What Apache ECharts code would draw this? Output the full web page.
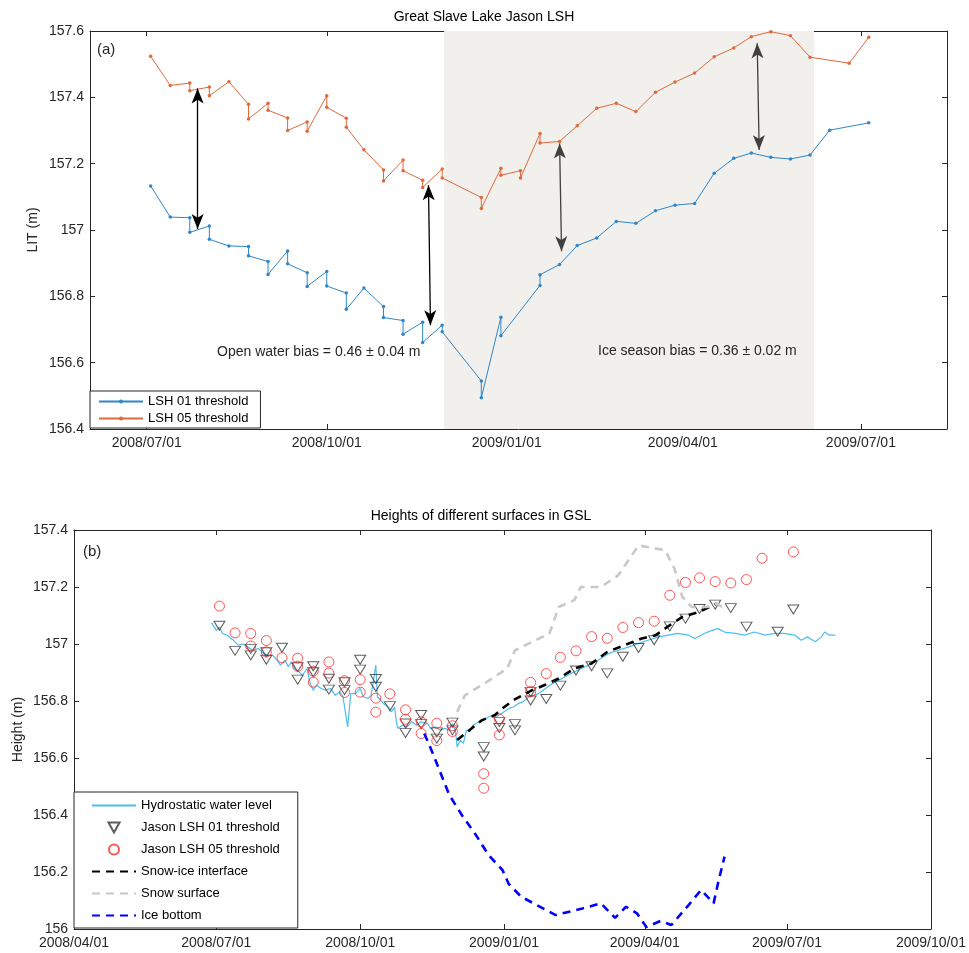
<!DOCTYPE html>
<html>
<head>
<meta charset="utf-8">
<script src="https://cdn.jsdelivr.net/npm/echarts@6/dist/echarts.min.js"></script>
<style>
  html, body { margin: 0; padding: 0; background: #fff; }
  #chart { width: 969px; height: 953px; }
</style>
</head>
<body>
<div id="chart"></div>
<script>
// ---- panel (a): LSH retrievals ----
var lsh01Dates = ['2008-07-03','2008-07-13','2008-07-23','2008-07-23','2008-08-02','2008-08-02','2008-08-12','2008-08-22','2008-08-22','2008-09-01',
  '2008-09-01','2008-09-11','2008-09-11','2008-09-21','2008-09-21','2008-10-01','2008-10-01','2008-10-11','2008-10-11','2008-10-20',
  '2008-10-30','2008-10-30','2008-11-09','2008-11-09','2008-11-19','2008-11-19','2008-11-29','2008-11-29','2008-12-19','2008-12-19',
  '2008-12-29','2008-12-29','2009-01-18','2009-01-18','2009-01-28','2009-02-06','2009-02-16','2009-02-26','2009-03-08','2009-03-18',
  '2009-03-28','2009-04-07','2009-04-17','2009-04-27','2009-05-06','2009-05-16','2009-05-26','2009-06-05','2009-06-15','2009-07-05']
var lsh01Vals = [157.133,157.039,157.037,156.993,157.012,156.972,156.952,156.950,156.922,156.905,
  156.866,156.937,156.898,156.871,156.830,156.875,156.831,156.810,156.761,156.825,
  156.769,156.736,156.727,156.686,156.722,156.661,156.713,156.693,156.545,156.494,
  156.737,156.681,156.833,156.865,156.896,156.953,156.976,157.026,157.020,157.058,
  157.075,157.080,157.171,157.216,157.232,157.219,157.214,157.226,157.301,157.323]

var lsh05Dates = ['2008-07-03','2008-07-13','2008-07-23','2008-07-23','2008-08-02','2008-08-02','2008-08-12','2008-08-22','2008-08-22','2008-09-01',
  '2008-09-01','2008-09-11','2008-09-11','2008-09-21','2008-09-21','2008-10-01','2008-10-01','2008-10-11','2008-10-11','2008-10-20',
  '2008-10-30','2008-10-30','2008-11-09','2008-11-09','2008-11-19','2008-11-19','2008-11-29','2008-11-29','2008-12-19','2008-12-19',
  '2008-12-29','2008-12-29','2009-01-08','2009-01-08','2009-01-18','2009-01-18','2009-01-28','2009-02-06','2009-02-16','2009-02-26',
  '2009-03-08','2009-03-18','2009-03-28','2009-04-07','2009-04-17','2009-04-27','2009-05-06','2009-05-16','2009-05-26','2009-06-05',
  '2009-06-25','2009-07-05']
var lsh05Vals = [157.524,157.436,157.443,157.420,157.431,157.405,157.447,157.379,157.335,157.382,
  157.361,157.338,157.300,157.326,157.298,157.405,157.370,157.337,157.310,157.242,
  157.181,157.148,157.211,157.179,157.150,157.128,157.184,157.157,157.098,157.065,
  157.186,157.165,157.179,157.157,157.291,157.262,157.267,157.314,157.367,157.382,
  157.357,157.415,157.446,157.473,157.522,157.549,157.583,157.598,157.586,157.521,
  157.503,157.581]

var iceSeason = ['2008-11-30', '2009-06-07']
// bias arrows: [date top, value top, date bottom, value bottom, colour]
var biasArrows = [
  ['2008-07-27', 157.427, '2008-07-27', 157.003, '#000000'],
  ['2008-11-22', 157.135, '2008-11-23', 156.713, '#000000'],
  ['2009-01-28', 157.261, '2009-01-29', 156.936, '#404040'],
  ['2009-05-09', 157.563, '2009-05-10', 157.241, '#404040'],
]
var topTicks = ['2008-07-01', '2008-10-01', '2009-01-01', '2009-04-01', '2009-07-01']

// ---- panel (b): surfaces ----
var hydroDates = ['2008-06-28','2008-07-01','2008-07-03','2008-07-05','2008-07-08','2008-07-12','2008-07-15','2008-07-18','2008-07-21','2008-07-24',
  '2008-07-28','2008-07-31','2008-08-03','2008-08-06','2008-08-09','2008-08-11','2008-08-14','2008-08-16','2008-08-18','2008-08-20',
  '2008-08-23','2008-08-25','2008-08-28','2008-08-30','2008-09-01','2008-09-03','2008-09-06','2008-09-09','2008-09-12','2008-09-15',
  '2008-09-18','2008-09-20','2008-09-23','2008-09-25','2008-09-28','2008-10-01','2008-10-03','2008-10-06','2008-10-08','2008-10-11',
  '2008-10-12','2008-10-14','2008-10-16','2008-10-19','2008-10-21','2008-10-23','2008-10-24','2008-10-25','2008-10-28','2008-10-31',
  '2008-11-03','2008-11-06','2008-11-09','2008-11-13','2008-11-15','2008-11-18','2008-11-21','2008-11-24','2008-11-27','2008-11-29',
  '2008-12-01','2008-12-02','2008-12-04','2008-12-06','2008-12-08','2008-12-10','2008-12-12','2008-12-16','2008-12-19','2008-12-22',
  '2008-12-25','2008-12-28','2009-01-01','2009-01-04','2009-01-07','2009-01-10','2009-01-13','2009-01-17','2009-01-20','2009-01-23',
  '2009-01-26','2009-01-29','2009-02-01','2009-02-05','2009-02-11','2009-02-17','2009-02-24','2009-03-02','2009-03-09','2009-03-15',
  '2009-03-22','2009-03-28','2009-04-03','2009-04-10','2009-04-16','2009-04-22','2009-04-29','2009-05-03','2009-05-09','2009-05-14',
  '2009-05-18','2009-05-22','2009-05-29','2009-06-04','2009-06-10','2009-06-17','2009-06-23','2009-06-29','2009-07-06','2009-07-10',
  '2009-07-14','2009-07-19','2009-07-23','2009-07-25','2009-07-28','2009-08-01']
var hydroVals = [157.074,157.048,157.06,157.037,157.031,157.013,156.996,157.0,156.99,156.978,
  156.984,156.967,156.96,156.96,156.943,156.926,156.943,156.92,156.937,156.914,
  156.902,156.89,156.914,156.861,156.838,156.856,156.844,156.838,156.844,156.82,
  156.832,156.815,156.709,156.826,156.826,156.844,156.815,156.809,156.82,156.926,
  156.815,156.803,156.791,156.779,156.762,156.779,156.733,156.704,156.715,156.709,
  156.727,156.715,156.727,156.721,156.704,156.709,156.698,156.704,156.698,156.721,
  156.692,156.639,156.663,156.651,156.698,156.692,156.715,156.727,156.733,156.744,
  156.75,156.747,156.762,156.774,156.779,156.791,156.797,156.815,156.82,156.826,
  156.838,156.85,156.861,156.873,156.891,156.908,156.926,156.943,156.967,156.978,
  156.99,157.002,157.013,157.025,157.031,157.037,157.031,157.019,157.037,157.048,
  157.054,157.042,157.037,157.031,157.042,157.031,157.037,157.037,157.031,157.013,
  157.025,157.008,157.025,157.042,157.031,157.031]

// triangles share lsh05Dates, circles share lsh01Dates/lsh01Vals
var triVals = [157.064,156.976,156.983,156.960,156.971,156.945,156.987,156.919,156.875,156.922,
  156.901,156.878,156.840,156.866,156.838,156.945,156.910,156.877,156.850,156.782,
  156.721,156.688,156.751,156.719,156.690,156.668,156.724,156.697,156.638,156.605,
  156.726,156.705,156.719,156.697,156.831,156.802,156.807,156.854,156.907,156.922,
  156.897,156.955,156.986,157.013,157.062,157.089,157.123,157.138,157.126,157.061,
  157.043,157.121]

var snowIceDates = ['2008-12-02','2008-12-10','2008-12-18','2008-12-26','2008-12-31','2009-01-07','2009-01-19','2009-01-27','2009-02-05','2009-02-15',
  '2009-02-26','2009-03-08','2009-03-19','2009-03-30','2009-04-08','2009-04-17','2009-04-25','2009-05-06','2009-05-17']
var snowIceVals = [156.663,156.698,156.733,156.75,156.774,156.803,156.838,156.856,156.879,156.914,
  156.932,156.972,156.996,157.019,157.031,157.066,157.095,157.113,157.142]

var snowDates = ['2008-12-02','2008-12-07','2008-12-21','2009-01-03','2009-01-08','2009-01-30','2009-02-05','2009-02-15','2009-02-19','2009-03-04',
  '2009-03-15','2009-03-28','2009-04-14','2009-04-20','2009-04-25','2009-05-01','2009-05-11','2009-05-17','2009-05-22']
var snowVals = [156.762,156.82,156.867,156.914,156.978,157.037,157.13,157.154,157.2,157.2,
  157.241,157.346,157.329,157.264,157.165,157.13,157.13,157.142,157.125]

var iceBotDates = ['2008-11-11','2008-11-16','2008-11-27','2008-12-05','2008-12-14','2008-12-22','2008-12-31','2009-01-04','2009-01-12','2009-02-03',
  '2009-02-20','2009-03-04','2009-03-13','2009-03-20','2009-03-27','2009-04-02','2009-04-11','2009-04-18','2009-04-29','2009-05-07',
  '2009-05-15','2009-05-18','2009-05-22']
var iceBotVals = [156.686,156.622,156.47,156.4,156.33,156.26,156.207,156.158,156.113,156.049,
  156.072,156.09,156.039,156.078,156.055,156.007,156.028,156.014,156.084,156.137,
  156.09,156.165,156.254]

var bottomTicks = ['2008-04-01', '2008-07-01', '2008-10-01', '2009-01-01', '2009-04-01', '2009-07-01', '2009-10-01']

// ---- helpers ----
var FONT = "'Liberation Sans', Arial, Helvetica, sans-serif"
var AX = '#262626'
function ts(s) { return Date.parse(s + 'T00:00:00Z') }
function pairs(ds, vs) { return ds.map(function (d, i) { return [ts(d), vs[i]] }) }
function pad(n) { return (n < 10 ? '0' : '') + n }
function fmtDate(v) {
  var d = new Date(v)
  return d.getUTCFullYear() + '/' + pad(d.getUTCMonth() + 1) + '/' + pad(d.getUTCDate())
}

function xAxis(grid, min, max, ticks, pos) {
  var tv = ticks.map(ts)
  return {
    type: 'value', gridIndex: grid, position: pos, min: ts(min), max: ts(max),
    axisLine: { show: true, onZero: false, lineStyle: { color: AX, width: 1 } },
    axisTick: { show: true, inside: true, length: 5, customValues: tv, lineStyle: { color: AX } },
    axisLabel: {
      show: pos === 'bottom', customValues: tv, formatter: fmtDate, margin: 7,
      color: AX, fontSize: 14, fontFamily: FONT,
    },
    splitLine: { show: false },
  }
}
function yAxis(grid, min, max, pos, name, nameGap) {
  return {
    type: 'value', gridIndex: grid, position: pos, min: min, max: max, interval: 0.2,
    name: name, nameLocation: 'middle', nameGap: nameGap, nameMoveOverlap: false,
    nameTextStyle: { color: AX, fontSize: 14, fontFamily: FONT },
    axisLine: { show: true, onZero: false, lineStyle: { color: AX, width: 1 } },
    axisTick: { show: true, inside: true, length: 5, lineStyle: { color: AX } },
    axisLabel: {
      show: pos === 'left', color: AX, fontSize: 14, fontFamily: FONT, margin: 6,
      formatter: function (v) { return String(+v.toFixed(1)) },
    },
    splitLine: { show: false },
  }
}
var noDot = { opacity: 0 }
var downTri = 'path://M0,0L10,0L5,9Z'

var chart = echarts.init(document.getElementById('chart'))

var option = {
  animation: false,
  backgroundColor: '#fff',
  textStyle: { fontFamily: FONT },
  grid: [
    { left: 90, right: 22, top: 31, height: 398 },
    { left: 74, right: 36, top: 530, height: 399 },
  ],
  xAxis: [
    xAxis(0, '2008-06-02', '2009-08-14', topTicks, 'bottom'),
    xAxis(0, '2008-06-02', '2009-08-14', topTicks, 'top'),
    xAxis(1, '2008-04-01', '2009-10-01', bottomTicks, 'bottom'),
    xAxis(1, '2008-04-01', '2009-10-01', bottomTicks, 'top'),
  ],
  yAxis: [
    yAxis(0, 156.4, 157.6, 'left', 'LIT (m)', 50),
    yAxis(0, 156.4, 157.6, 'right', '', 0),
    yAxis(1, 156, 157.4, 'left', 'Height (m)', 49),
    yAxis(1, 156, 157.4, 'right', '', 0),
  ],
  legend: [
    {
      data: ['LSH 01 threshold', 'LSH 05 threshold'],
      orient: 'vertical', left: 90, top: 391,
      padding: [4, 12, 3, 8], itemGap: 4, itemWidth: 44, itemHeight: 5,
      backgroundColor: '#fff', borderColor: AX, borderWidth: 1, borderRadius: 0,
      textStyle: { color: '#000', fontSize: 13, fontFamily: FONT },
    },
    {
      data: [
        { name: 'Hydrostatic water level', itemStyle: noDot },
        { name: 'Jason LSH 01 threshold', icon: downTri },
        { name: 'Jason LSH 05 threshold' },
        { name: 'Snow-ice interface', itemStyle: noDot },
        { name: 'Snow surface', itemStyle: noDot },
        { name: 'Ice bottom', itemStyle: noDot },
      ],
      orient: 'vertical', left: 74, top: 792,
      padding: [7, 18, 6, 17], itemGap: 9, itemWidth: 44, itemHeight: 10,
      backgroundColor: '#fff', borderColor: AX, borderWidth: 1, borderRadius: 0,
      textStyle: { color: '#000', fontSize: 13, fontFamily: FONT },
    },
  ],
  graphic: [
    { type: 'text', z: 100, x: 484, y: 17, style: { text: 'Great Slave Lake Jason LSH', fill: '#000', font: '14px ' + FONT, align: 'center', verticalAlign: 'middle' } },
    { type: 'text', z: 100, x: 481, y: 516, style: { text: 'Heights of different surfaces in GSL', fill: '#000', font: '14px ' + FONT, align: 'center', verticalAlign: 'middle' } },
    { type: 'text', z: 100, x: 97, y: 50, style: { text: '(a)', fill: AX, font: '15px ' + FONT, verticalAlign: 'middle' } },
    { type: 'text', z: 100, x: 83, y: 552, style: { text: '(b)', fill: AX, font: '15px ' + FONT, verticalAlign: 'middle' } },
    { type: 'text', z: 100, x: 217, y: 352, style: { text: 'Open water bias = 0.46 \u00b1 0.04 m', fill: AX, font: '14px ' + FONT, verticalAlign: 'middle' } },
    { type: 'text', z: 100, x: 598, y: 351, style: { text: 'Ice season bias = 0.36 \u00b1 0.02 m', fill: AX, font: '14px ' + FONT, verticalAlign: 'middle' } },
  ],
  series: [
    {
      // ice season shading
      type: 'line', xAxisIndex: 0, yAxisIndex: 0, data: [], z: 1, silent: true,
      markArea: {
        silent: true,
        itemStyle: { color: '#f1f0ec' },
        data: [[{ xAxis: ts(iceSeason[0]) }, { xAxis: ts(iceSeason[1]) }]],
      },
    },
    {
      name: 'LSH 01 threshold', type: 'line', xAxisIndex: 0, yAxisIndex: 0,
      data: pairs(lsh01Dates, lsh01Vals),
      symbol: 'circle', symbolSize: 3.5, z: 3,
      lineStyle: { color: '#2f86c8', width: 1 },
      itemStyle: { color: '#2f86c8' },
    },
    {
      name: 'LSH 05 threshold', type: 'line', xAxisIndex: 0, yAxisIndex: 0,
      data: pairs(lsh05Dates, lsh05Vals),
      symbol: 'circle', symbolSize: 3.5, z: 3,
      lineStyle: { color: '#e0683a', width: 1 },
      itemStyle: { color: '#e0683a' },
      markLine: {
        silent: true, symbol: ['arrow', 'arrow'], symbolSize: [9, 15],
        label: { show: false },
        lineStyle: { type: 'solid', width: 1.3 },
        data: biasArrows.map(function (a) {
          return [
            { coord: [ts(a[0]), a[1]], lineStyle: { color: a[4] }, itemStyle: { color: a[4] } },
            { coord: [ts(a[2]), a[3]] },
          ]
        }),
      },
    },
    {
      name: 'Hydrostatic water level', type: 'line', xAxisIndex: 2, yAxisIndex: 2,
      data: pairs(hydroDates, hydroVals), showSymbol: false, symbol: 'none',
      lineStyle: { color: '#4dbeee', width: 1.2 },
      itemStyle: { color: '#4dbeee' },
    },
    {
      name: 'Jason LSH 01 threshold', type: 'scatter', xAxisIndex: 2, yAxisIndex: 2,
      data: pairs(lsh05Dates, triVals),
      symbol: 'triangle', symbolRotate: 180, symbolSize: [11, 9], z: 4,
      itemStyle: { color: 'rgba(0,0,0,0)', borderColor: '#333', borderWidth: 1 },
    },
    {
      name: 'Jason LSH 05 threshold', type: 'scatter', xAxisIndex: 2, yAxisIndex: 2,
      data: pairs(lsh01Dates, lsh01Vals),
      symbol: 'circle', symbolSize: 10, z: 4,
      itemStyle: { color: 'rgba(0,0,0,0)', borderColor: '#ff2a2a', borderWidth: 1 },
    },
    {
      name: 'Snow-ice interface', type: 'line', xAxisIndex: 2, yAxisIndex: 2,
      data: pairs(snowIceDates, snowIceVals), showSymbol: false, symbol: 'none', z: 5,
      lineStyle: { color: '#000', width: 2.6, type: [8, 6] },
      itemStyle: { color: '#000' },
    },
    {
      name: 'Snow surface', type: 'line', xAxisIndex: 2, yAxisIndex: 2,
      data: pairs(snowDates, snowVals), showSymbol: false, symbol: 'none', z: 5,
      lineStyle: { color: '#c8c8c8', width: 2.6, type: [8, 6] },
      itemStyle: { color: '#c8c8c8' },
    },
    {
      name: 'Ice bottom', type: 'line', xAxisIndex: 2, yAxisIndex: 2,
      data: pairs(iceBotDates, iceBotVals), showSymbol: false, symbol: 'none', z: 5,
      lineStyle: { color: '#0000ff', width: 2.6, type: [8, 6] },
      itemStyle: { color: '#0000ff' },
    },
  ],
}

chart.setOption(option)
window.addEventListener('resize', function () { chart.resize() })
</script>
</body>
</html>
